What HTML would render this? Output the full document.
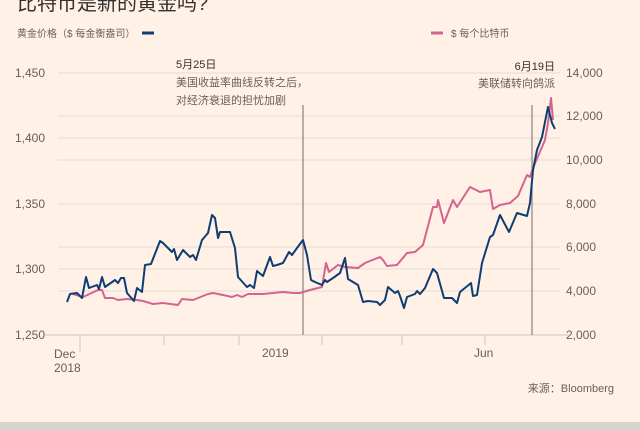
<!DOCTYPE html>
<html><head><meta charset="utf-8"><style>
html,body{margin:0;padding:0;background:#fff1e5;}
svg{display:block;font-family:"Liberation Sans","Noto Sans CJK SC",sans-serif;}
</style></head><body>
<svg width="640" height="430" viewBox="0 0 640 430" xmlns="http://www.w3.org/2000/svg">
<rect width="640" height="430" fill="#fff1e5"/>
<rect y="422" width="640" height="8" fill="#d9d3cd"/>
<text x="17" y="10" font-size="20" fill="#33302e">比特币是新的黄金吗?</text>
<text x="17" y="37" font-size="10" fill="#66605c">黄金价格（$ 每金衡盎司）</text>
<line x1="142" y1="33" x2="154" y2="33" stroke="#0f3d73" stroke-width="3"/>
<line x1="431" y1="33" x2="443" y2="33" stroke="#d4648f" stroke-width="3"/>
<text x="451" y="37" font-size="10" fill="#66605c">$ 每个比特币</text>
<g stroke="#e6ddd4" stroke-width="1">
<line x1="58" y1="73" x2="560" y2="73"/><line x1="58" y1="138" x2="560" y2="138"/>
<line x1="58" y1="204" x2="560" y2="204"/><line x1="58" y1="269" x2="560" y2="269"/>
<line x1="58" y1="116" x2="560" y2="116"/><line x1="58" y1="160" x2="560" y2="160"/>
<line x1="58" y1="247" x2="560" y2="247"/><line x1="58" y1="291" x2="560" y2="291"/>
</g>
<g stroke="#cfc6bd" stroke-width="1">
<line x1="45" y1="335" x2="568" y2="335"/>
<line x1="80" y1="335" x2="80" y2="352"/><line x1="164" y1="335" x2="164" y2="345"/>
<line x1="239" y1="335" x2="239" y2="345"/><line x1="322" y1="335" x2="322" y2="345"/>
<line x1="402" y1="335" x2="402" y2="345"/><line x1="485" y1="335" x2="485" y2="345"/>
</g>
<g font-size="12" fill="#66605c">
<text x="45" y="77" text-anchor="end">1,450</text>
<text x="45" y="142" text-anchor="end">1,400</text>
<text x="45" y="208" text-anchor="end">1,350</text>
<text x="45" y="273" text-anchor="end">1,300</text>
<text x="45" y="339" text-anchor="end">1,250</text>
<text x="566" y="77">14,000</text>
<text x="566" y="120">12,000</text>
<text x="566" y="164">10,000</text>
<text x="566" y="208">8,000</text>
<text x="566" y="251">6,000</text>
<text x="566" y="295">4,000</text>
<text x="566" y="339">2,000</text>
<text x="54" y="358">Dec</text>
<text x="54" y="372">2018</text>
<text x="262" y="357">2019</text>
<text x="474" y="357">Jun</text>
<text x="614" y="392" text-anchor="end" font-size="11">来源：Bloomberg</text>
</g>
<g stroke="#8a837e" stroke-width="1.2">
<line x1="303" y1="105" x2="303" y2="335"/><line x1="532" y1="105" x2="532" y2="335"/>
</g>
<g font-size="11" fill="#66605c">
<text x="176" y="68" fill="#33302e">5月25日</text>
<text x="176" y="86">美国收益率曲线反转之后，</text>
<text x="176" y="104">对经济衰退的担忧加剧</text>
<text x="555" y="70" text-anchor="end" fill="#33302e">6月19日</text>
<text x="555" y="87" text-anchor="end">美联储转向鸽派</text>
</g>
<polyline fill="none" stroke="#d4648f" stroke-width="2" stroke-linejoin="round" points="73,294 83,297 98,290 102,290 105,298 113,298 118,300 127,299 137,300 143,301 153,304 163,303 178,305 182,299 193,300 208,294 213,293 223,295 232,297 237,295 242,297 248,294 263,294 283,292 293,293 300,293 310,290 322,287 326,263 329,272 338,265 345,267 358,268 365,263 380,257 383,260 387,266 397,265 407,253 415,252 423,245 433,207 437,207 438,200 444,223 453,200 457,207 470,187 480,192 490,190 493,209 500,205 510,203 518,196 527,175 530,177 533,168 545,140 548,123 551,98 553,120"/>
<polyline fill="none" stroke="#0f3d73" stroke-width="2" stroke-linejoin="round" points="67,302 70,294 77,293 82,298 86,277 89,288 97,285 99,289 102,277 105,287 115,280 118,283 121,278 124,278 127,293 134,301 137,288 142,292 145,265 151,264 160,241 163,243 172,252 174,249 177,260 183,250 190,257 193,255 196,260 202,240 208,233 212,215 215,218 218,238 220,232 230,232 235,248 238,277 247,287 250,285 254,288 257,271 263,276 270,257 273,266 277,265 283,263 289,252 292,255 297,248 303,240 307,255 311,280 315,282 322,285 325,280 327,282 333,278 340,273 345,258 348,279 358,285 363,302 368,301 377,302 380,305 385,300 388,287 395,293 398,291 400,296 404,308 407,297 415,294 417,291 420,294 425,288 433,269 437,273 444,298 452,298 457,303 460,292 471,283 473,296 477,295 482,263 490,237 493,235 500,215 509,232 517,213 527,216 530,203 533,170 537,150 542,137 548,107 552,123 555,129"/>
</svg>
</body></html>
